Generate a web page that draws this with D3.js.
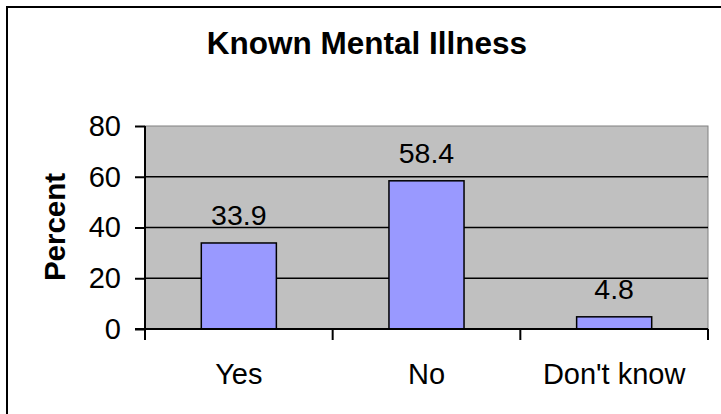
<!DOCTYPE html>
<html><head><meta charset="utf-8">
<script src="https://cdn.jsdelivr.net/npm/d3@7"></script>
<style>body{margin:0;background:#fff}svg{display:block;font-family:"Liberation Sans",Arial,sans-serif}</style>
</head><body>
<script>
const categories = ["Yes", "No", "Don't know"];
const values = [33.9, 58.4, 4.8];
const yTicks = [0, 20, 40, 60, 80];
const title = "Known Mental Illness";
const yTitle = "Percent";

(function () {
const W = 721, H = 414;
const svg = d3.select("body").append("svg").attr("width", W).attr("height", H);
svg.append("rect").attr("x", 7).attr("y", 7).attr("width", 800).attr("height", 500)
  .attr("fill", "#fff").attr("stroke", "#000").attr("stroke-width", 2);

const pL = 145, pR = 708, pT = 126, pB = 329;
const x = d3.scaleBand().domain(categories).range([pL, pR]).padding(0);
const y = d3.scaleLinear().domain([0, 80]).range([pB, pT]);

svg.append("rect").attr("x", pL).attr("y", pT).attr("width", pR - pL).attr("height", pB - pT)
  .attr("fill", "#c0c0c0").attr("stroke", "#808080").attr("stroke-width", 1);

// gridlines
svg.append("g").selectAll("line").data(yTicks.filter(d => d > 0 && d < 80)).join("line")
  .attr("x1", pL).attr("x2", pR).attr("y1", d => y(d)).attr("y2", d => y(d))
  .attr("stroke", "#000").attr("stroke-width", 1.5);

// bars
const bw = x.bandwidth() * 0.4;
svg.append("g").selectAll("rect").data(values).join("rect")
  .attr("x", (d, i) => x(categories[i]) + (x.bandwidth() - bw) / 2)
  .attr("y", d => y(d)).attr("width", bw).attr("height", d => y(0) - y(d))
  .attr("fill", "#9999ff").attr("stroke", "#000").attr("stroke-width", 1.5);

// value labels
svg.append("g").selectAll("text").data(values).join("text")
  .attr("x", (d, i) => x(categories[i]) + x.bandwidth() / 2)
  .attr("y", d => y(d) - 18).attr("text-anchor", "middle")
  .attr("font-size", 28.5).attr("fill", "#000").text(d => d.toFixed(1));

// y axis
const yAxis = d3.axisLeft(y).tickValues(yTicks).tickSize(10).tickPadding(14).tickFormat(d3.format("d"));
const gy = svg.append("g").attr("transform", `translate(${pL},0)`).call(yAxis);
gy.select(".domain").attr("stroke", "#000").attr("stroke-width", 2).attr("d", `M0,${pT}V${pB}`);
gy.selectAll(".tick line").attr("stroke", "#000").attr("stroke-width", 2);
gy.selectAll(".tick text").attr("font-size", 29).attr("font-family", '"Liberation Sans",Arial,sans-serif').attr("fill", "#000");

// x axis
const xEdges = [pL, ...categories.map(c => x(c) + x.bandwidth())];
const gx = svg.append("g");
gx.append("line").attr("x1", pL - 10).attr("x2", pR).attr("y1", pB).attr("y2", pB)
  .attr("stroke", "#000").attr("stroke-width", 2);
gx.selectAll("line.t").data(xEdges).join("line").attr("class", "t")
  .attr("x1", d => d).attr("x2", d => d).attr("y1", pB).attr("y2", pB + 11)
  .attr("stroke", "#000").attr("stroke-width", 2);
gx.selectAll("text").data(categories).join("text")
  .attr("x", d => x(d) + x.bandwidth() / 2).attr("y", 384)
  .attr("text-anchor", "middle").attr("font-size", 29).attr("fill", "#000").text(d => d);

// titles
svg.append("text").attr("x", 367).attr("y", 54).attr("text-anchor", "middle")
  .attr("font-size", 31.5).attr("font-weight", "bold").text(title);
svg.append("text").attr("transform", "translate(65,227) rotate(-90)").attr("text-anchor", "middle")
  .attr("font-size", 29.5).attr("font-weight", "bold").text(yTitle);
})();
</script>
</body></html>
